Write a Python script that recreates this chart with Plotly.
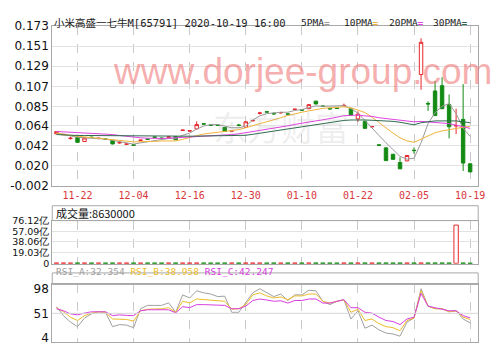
import plotly.graph_objects as go

# ---------------- data ----------------
IDX = list(range(60))
TICK_IDX = [3, 11, 19, 27, 35, 43, 51, 59]
TICK_TXT = ["11-22", "12-04", "12-16", "12-30", "01-10", "01-22", "02-05", "10-19"]

OPEN = [0.0548, 0.0538, 0.0496, 0.0512, 0.0464, 0.0512, 0.0496, 0.0492, 0.0477, 0.0448,
        0.0433, 0.0427, 0.0475, 0.0492, 0.0514, 0.0502, 0.0510, 0.0518, 0.0585, 0.0578,
        0.0602, 0.0659, 0.0645, 0.0645, 0.0618, 0.0578, 0.0645, 0.0620, 0.0690, 0.0773,
        0.0791, 0.0772, 0.0778, 0.0767, 0.0815, 0.0812, 0.0824, 0.0907, 0.0854, 0.0826,
        0.0832, 0.0856, 0.0824, 0.0712, 0.0685, 0.0624, 0.0427, 0.0394, 0.0324, 0.0233,
        0.0251, 0.0368, 0.1199, 0.0882, 0.1019, 0.1077, 0.0869, 0.0634, 0.0707, 0.0219]
HIGH = [0.0575, 0.0545, 0.0515, 0.0518, 0.0506, 0.0514, 0.0501, 0.0493, 0.0480, 0.0460,
        0.0438, 0.0432, 0.0480, 0.0493, 0.0515, 0.0503, 0.0515, 0.0521, 0.0590, 0.0583,
        0.0685, 0.0660, 0.0646, 0.0646, 0.0620, 0.0583, 0.0655, 0.0690, 0.0695, 0.0790,
        0.0792, 0.0785, 0.0790, 0.0775, 0.0820, 0.0813, 0.0875, 0.0910, 0.0855, 0.0835,
        0.0833, 0.0880, 0.0828, 0.0795, 0.0688, 0.0629, 0.0428, 0.0396, 0.0327, 0.0290,
        0.0312, 0.0400, 0.1598, 0.0905, 0.1129, 0.1170, 0.0980, 0.0824, 0.1094, 0.0225]
LOW = [0.0545, 0.0535, 0.0485, 0.0448, 0.0462, 0.0508, 0.0495, 0.0487, 0.0432, 0.0440,
       0.0432, 0.0418, 0.0474, 0.0487, 0.0509, 0.0497, 0.0509, 0.0480, 0.0584, 0.0577,
       0.0600, 0.0654, 0.0640, 0.0640, 0.0570, 0.0577, 0.0630, 0.0618, 0.0689, 0.0760,
       0.0786, 0.0755, 0.0770, 0.0755, 0.0814, 0.0807, 0.0820, 0.0874, 0.0849, 0.0815,
       0.0827, 0.0855, 0.0748, 0.0680, 0.0605, 0.0623, 0.0422, 0.0252, 0.0266, 0.0160,
       0.0249, 0.0330, 0.1032, 0.0800, 0.0745, 0.0820, 0.0498, 0.0546, 0.0140, 0.0128]
CLOSE = [0.0572, 0.0542, 0.0500, 0.0455, 0.0503, 0.0508, 0.0500, 0.0488, 0.0437, 0.0452,
         0.0437, 0.0423, 0.0479, 0.0488, 0.0510, 0.0498, 0.0514, 0.0483, 0.0589, 0.0582,
         0.0650, 0.0655, 0.0641, 0.0641, 0.0574, 0.0582, 0.0641, 0.0680, 0.0694, 0.0777,
         0.0787, 0.0768, 0.0782, 0.0763, 0.0819, 0.0808, 0.0869, 0.0876, 0.0850, 0.0822,
         0.0828, 0.0860, 0.0754, 0.0765, 0.0608, 0.0628, 0.0423, 0.0254, 0.0268, 0.0164,
         0.0310, 0.0364, 0.1553, 0.0876, 0.0748, 0.0824, 0.0626, 0.0640, 0.0227, 0.0130]

MA5 = [0.0556, 0.0540, 0.0520, 0.0510, 0.0504, 0.0500, 0.0497, 0.0490, 0.0477, 0.0465,
       0.0452, 0.0435, 0.0449, 0.0460, 0.0477, 0.0490, 0.0497, 0.0497, 0.0532, 0.0556,
       0.0600, 0.0633, 0.0650, 0.0650, 0.0636, 0.0615, 0.0615, 0.0633, 0.0700, 0.0745,
       0.0770, 0.0780, 0.0785, 0.0785, 0.0805, 0.0815, 0.0834, 0.0855, 0.0851, 0.0851,
       0.0855, 0.0858, 0.0824, 0.0775, 0.0695, 0.0608, 0.0530, 0.0450, 0.0370, 0.0300,
       0.0270, 0.0280, 0.0450, 0.0660, 0.0780, 0.0850, 0.0880, 0.0770, 0.0610, 0.0520]
MA10 = [0.0556, 0.0540, 0.0530, 0.0522, 0.0515, 0.0510, 0.0504, 0.0490, 0.0483, 0.0477,
        0.0468, 0.0460, 0.0460, 0.0460, 0.0465, 0.0470, 0.0470, 0.0470, 0.0487, 0.0510,
        0.0528, 0.0546, 0.0556, 0.0567, 0.0574, 0.0580, 0.0594, 0.0615, 0.0640, 0.0660,
        0.0680, 0.0700, 0.0725, 0.0750, 0.0770, 0.0785, 0.0800, 0.0818, 0.0828, 0.0834,
        0.0840, 0.0845, 0.0834, 0.0810, 0.0782, 0.0730, 0.0670, 0.0608, 0.0556, 0.0504,
        0.0470, 0.0455, 0.0490, 0.0530, 0.0560, 0.0580, 0.0595, 0.0610, 0.0620, 0.0630]
MA20 = [0.0574, 0.0570, 0.0565, 0.0560, 0.0556, 0.0550, 0.0545, 0.0542, 0.0540, 0.0530,
        0.0520, 0.0510, 0.0504, 0.0500, 0.0497, 0.0497, 0.0500, 0.0504, 0.0507, 0.0510,
        0.0513, 0.0517, 0.0520, 0.0527, 0.0533, 0.0540, 0.0548, 0.0560, 0.0570, 0.0580,
        0.0592, 0.0605, 0.0620, 0.0636, 0.0652, 0.0667, 0.0678, 0.0690, 0.0702, 0.0713,
        0.0730, 0.0747, 0.0754, 0.0754, 0.0745, 0.0740, 0.0725, 0.0715, 0.0710, 0.0700,
        0.0690, 0.0680, 0.0685, 0.0680, 0.0678, 0.0670, 0.0660, 0.0643, 0.0626, 0.0608]
MA30 = [0.0540, 0.0535, 0.0532, 0.0530, 0.0530, 0.0529, 0.0528, 0.0527, 0.0526, 0.0525,
        0.0524, 0.0523, 0.0522, 0.0521, 0.0520, 0.0520, 0.0520, 0.0520, 0.0521, 0.0522,
        0.0523, 0.0524, 0.0525, 0.0526, 0.0527, 0.0528, 0.0529, 0.0532, 0.0543, 0.0555,
        0.0567, 0.0578, 0.0590, 0.0602, 0.0613, 0.0625, 0.0637, 0.0648, 0.0660, 0.0672,
        0.0684, 0.0695, 0.0700, 0.0703, 0.0700, 0.0697, 0.0694, 0.0690, 0.0685, 0.0675,
        0.0660, 0.0647, 0.0670, 0.0680, 0.0690, 0.0690, 0.0690, 0.0690, 0.0680, 0.0670]

# volume in 亿 (1e8)
VOL = [0.45, 0.42, 0.40, 0.48, 0.44, 0.41, 0.43, 0.40, 0.46, 0.42,
       0.40, 0.44, 0.41, 0.43, 0.40, 0.42, 0.44, 0.45, 0.41, 0.43,
       0.47, 0.42, 0.40, 0.41, 0.46, 0.42, 0.43, 0.45, 0.41, 0.44,
       0.40, 0.42, 0.43, 0.41, 0.44, 0.40, 0.45, 0.47, 0.41, 0.42,
       0.40, 0.43, 0.46, 0.44, 0.47, 0.41, 0.42, 0.48, 0.45, 0.46,
       0.43, 0.42, 0.50, 0.44, 0.48, 0.47, 0.46, 68.1, 0.49, 0.0863]

RSI_A = [64, 46.5, 34, 25, 41.7, 50, 54, 53, 25, 29,
         28, 23, 60, 66.5, 66.5, 66.5, 71.4, 53, 87, 81,
         95, 91, 88.7, 83.7, 84.5, 53, 53, 71, 91, 99,
         91, 83.7, 88.7, 76, 87, 87, 96, 95, 74.5, 68,
         74.5, 77.6, 40, 56, 22, 28, 18.6, 12.5, 10.7, 6.4,
         34, 41.7, 99, 65, 60, 60, 54, 56, 40, 32.354]
RSI_B = [62, 54, 43.5, 37, 46.5, 51.5, 54, 53, 40, 40,
         39, 36, 56, 59, 59, 60, 62, 53, 74.5, 71.4,
         79, 77.6, 76.5, 74.5, 74.5, 59, 60, 68, 87, 91,
         85, 81, 83, 77.6, 85, 85, 88.7, 88.7, 74.5, 71,
         74.5, 77.6, 53, 59, 37, 40, 31, 25, 23, 17,
         37, 41.7, 95, 65, 60, 60, 54, 56, 43.5, 38.958]
RSI_C = [60, 56, 50, 48, 51.5, 54, 54, 54, 46.5, 48,
         47, 46.5, 56, 58, 58, 58, 58, 52, 64, 62,
         68, 68, 68, 67, 66.5, 60, 60, 65, 76, 79,
         77, 74.5, 75.5, 71, 76, 76, 79, 79, 71, 71,
         74.5, 77.6, 62, 62, 53, 51.5, 43.5, 37, 35, 29,
         40, 43.5, 90, 65, 62, 59, 56, 56, 46.5, 42.247]

PRICE_TICK_TXT = ["-0.002", "0.020", "0.042", "0.064", "0.085", "0.107", "0.129", "0.151", "0.173"]
VOL_TICKS = [0, 19.03, 38.06, 57.09, 76.12]
VOL_TICK_TXT = ["0", "19.03亿", "38.06亿", "57.09亿", "76.12亿"]
RSI_TICKS = [4, 51, 98]

TITLE = "小米高盛一七牛M[65791] 2020-10-19 16:00"
MA_NAMES = ["5PMA", "10PMA", "20PMA", "30PMA"]
VOL_TITLE = "成交量:8630000"
RSI_NAMES = ["RSI_A", "RSI_B", "RSI_C"]

# ---------------- style ----------------
W, H = 499, 350
RED = "#e8262b"
GREEN = "#138a13"
MA_COLORS = ["#9a9a9a", "#f0b43c", "#e042e0", "#2e6b4e"]
RSI_COLORS = ["#a0a0a0", "#eebc2a", "#d83ee0"]
BORDER = "#a8a8a8"
GRID = "#e2e2e2"
VGRID = "#c9c9c9"
NUMFONT = "DejaVu Sans"
MONO = "DejaVu Sans Mono, Noto Sans CJK SC"


def fx(p):
    return p / W


def fy(p):
    return 1 - p / H


X0, X1 = 53, 485
fig = go.Figure()

fig.add_trace(go.Candlestick(
    x=IDX, open=OPEN, high=HIGH, low=LOW, close=CLOSE,
    increasing=dict(line=dict(color=RED, width=1), fillcolor="white"),
    decreasing=dict(line=dict(color=GREEN, width=1), fillcolor=GREEN),
    whiskerwidth=0, hoverinfo="skip", xaxis="x", yaxis="y"))

for name, vals, col in zip(MA_NAMES, [MA5, MA10, MA20, MA30], MA_COLORS):
    fig.add_trace(go.Scatter(x=IDX, y=vals, mode="lines", name=name,
                             line=dict(color=col, width=1), hoverinfo="skip",
                             xaxis="x", yaxis="y"))

up = [c >= o for o, c in zip(OPEN, CLOSE)]
fig.add_trace(go.Bar(
    x=IDX, y=VOL, width=0.62,
    marker=dict(color=["white" if u else GREEN for u in up],
                line=dict(color=[RED if u else GREEN for u in up], width=1)),
    hoverinfo="skip", xaxis="x2", yaxis="y2"))

for name, vals, col in zip(RSI_NAMES, [RSI_A, RSI_B, RSI_C], RSI_COLORS):
    fig.add_trace(go.Scatter(x=IDX, y=vals, mode="lines", name=name,
                             line=dict(color=col, width=1), hoverinfo="skip",
                             xaxis="x3", yaxis="y3"))

xcommon = dict(domain=[fx(X0), fx(X1)], range=[-0.6, 60.15], tickvals=TICK_IDX,
               showgrid=True, gridcolor=VGRID, griddash="dash", gridwidth=1,
               showline=True, mirror=True, linecolor=BORDER, linewidth=1,
               zeroline=False, ticks="", fixedrange=True)
ycommon = dict(showline=True, mirror=True, linecolor=BORDER, linewidth=1,
               zeroline=False, ticks="", gridcolor=GRID, gridwidth=1,
               tickfont=dict(family=NUMFONT, size=12, color="#111"), fixedrange=True)

fig.update_layout(
    width=W, height=H, margin=dict(l=0, r=0, t=0, b=0),
    paper_bgcolor="white", plot_bgcolor="white", showlegend=False,
    xaxis=dict(**xcommon, anchor="y", ticktext=TICK_TXT,
               tickfont=dict(family="DejaVu Sans Mono", size=10, color="#d8363a"),
               rangeslider=dict(visible=False)),
    yaxis=dict(**ycommon, domain=[fy(186), fy(20)], range=[-0.002, 0.173],
               tickvals=[float(t) for t in PRICE_TICK_TXT], ticktext=PRICE_TICK_TXT),
    xaxis2=dict(**xcommon, anchor="y2", matches="x", showticklabels=False),
    yaxis2=dict(**{**ycommon, "tickfont": dict(family=NUMFONT, size=9.5, color="#111")},
                domain=[fy(267.5), fy(222.5)], range=[-0.9, 76.12],
                tickvals=VOL_TICKS, ticktext=VOL_TICK_TXT),
    xaxis3=dict(**xcommon, anchor="y3", matches="x", showticklabels=False),
    yaxis3=dict(**ycommon, domain=[fy(348.5), fy(289)], range=[-4.1, 107.4],
                tickvals=RSI_TICKS, ticktext=[str(t) for t in RSI_TICKS], showgrid=False),
)

shapes = [
    dict(type="rect", xref="paper", yref="paper", x0=fx(X0), x1=fx(X1),
         y0=fy(222.5), y1=fy(207), line=dict(color=BORDER, width=1)),
    dict(type="rect", xref="paper", yref="paper", x0=fx(X0), x1=fx(X1),
         y0=fy(289), y1=fy(277), line=dict(color=BORDER, width=1)),
    dict(type="line", xref="x3 domain", yref="y3", x0=0, x1=1, y0=51, y1=51,
         line=dict(color="#d6d6d6", width=1)),
]
fig.update_layout(shapes=shapes)

ann = []
# watermarks
ann.append(dict(text="东方财富", x=fx(285), y=fy(97), xref="paper", yref="paper",
                showarrow=False, font=dict(family="Noto Sans CJK SC", size=34,
                                           color="rgba(150,150,150,0.16)")))
ann.append(dict(text="www.dorjee-group.com", x=fx(307), y=fy(44), xref="paper", yref="paper",
                showarrow=False, font=dict(family="Liberation Sans", size=37,
                                           color="rgba(238,105,105,0.55)")))
# title
ann.append(dict(text=TITLE, x=fx(53), y=fy(8), xref="paper", yref="paper", xanchor="left",
                showarrow=False, font=dict(family=MONO, size=10.5, color="#222")))
# MA legend
for name, col, xp in zip(MA_NAMES, MA_COLORS, [303, 347, 392, 437]):
    ann.append(dict(text=f"{name}<span style='color:{col}'><b>=</b></span>",
                    x=fx(xp), y=fy(8), xref="paper", yref="paper", xanchor="left",
                    showarrow=False, font=dict(family=MONO, size=9.5, color="#222")))
# volume title
ann.append(dict(text=VOL_TITLE, x=fx(55), y=fy(215), xref="paper", yref="paper",
                xanchor="left", showarrow=False,
                font=dict(family="Noto Sans CJK SC", size=11, color="#111")))
# RSI title
rsi_last = [RSI_A[-1], RSI_B[-1], RSI_C[-1]]
rsi_txt = " ".join(f"<span style='color:{c}'>{n}:{v:.3f}</span>"
                   for n, v, c in zip(RSI_NAMES, rsi_last, RSI_COLORS))
ann.append(dict(text=rsi_txt, x=fx(55), y=fy(283), xref="paper", yref="paper",
                xanchor="left", showarrow=False,
                font=dict(family="DejaVu Sans Mono", size=9.5, color="#999")))
fig.update_layout(annotations=ann)

fig.write_html("out.html")
